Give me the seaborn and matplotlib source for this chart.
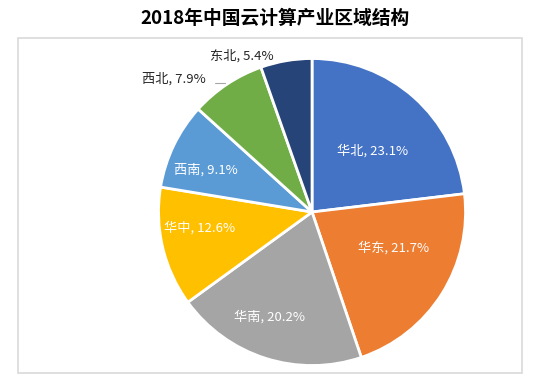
import matplotlib
matplotlib.use("Agg")
import matplotlib.pyplot as plt
import seaborn as sns

# Data
regions = ["华北", "华东", "华南", "华中", "西南", "西北", "东北"]
shares = [23.1, 21.7, 20.2, 12.6, 9.1, 7.9, 5.4]
colors = ["#4472C4", "#ED7D31", "#A5A5A5", "#FFC000", "#5B9BD5", "#70AD47", "#264478"]
title = "2018年中国云计算产业区域结构"

sns.set_theme(style="white")
plt.rcParams['font.family'] = ['Noto Sans CJK SC', 'DejaVu Sans']

fig = plt.figure(figsize=(5.51, 3.85), dpi=100)

# light grey frame round the plot area
frame = plt.Rectangle((0.0327, 0.0312), 0.9147, 0.870, transform=fig.transFigure,
                      fill=False, edgecolor="#D9D9D9", linewidth=1.2)
fig.patches.append(frame)

fig.text(0.5, 0.953, title, ha="center", va="center", fontsize=13.5,
         fontweight="bold", color="black")

# pie axes: centre (312, 212) px, radius ~153 px
ax = fig.add_axes([0.2877, 0.0506, 0.5572, 0.7974])
wedges, _ = ax.pie(shares, colors=colors, startangle=90, counterclock=False,
                   radius=1.0, wedgeprops=dict(edgecolor="white", linewidth=2))
ax.set_xlim(-1, 1)
ax.set_ylim(-1, 1)
ax.set_aspect("auto")
ax.axis("off")

# label positions in pie units (layout only)
label_pos = [(0.397, 0.397), (0.534, -0.235), (-0.274, -0.684), (-0.735, -0.104),
             (-0.690, 0.274), (-0.900, 0.866), (-0.456, 1.016)]
label_col = ["white", "white", "white", "white", "white", "#262626", "#262626"]
for name, val, (x, y), c in zip(regions, shares, label_pos, label_col):
    ax.text(x, y, f"{name}, {val}%", ha="center", va="center", fontsize=9.5,
            color=c, clip_on=False)

# short leader line next to the 西北 label
ax.plot([-0.632, -0.57], [0.843, 0.843], color="#A6A6A6", linewidth=0.8,
        clip_on=False)

fig.savefig("out.png", dpi=100)
